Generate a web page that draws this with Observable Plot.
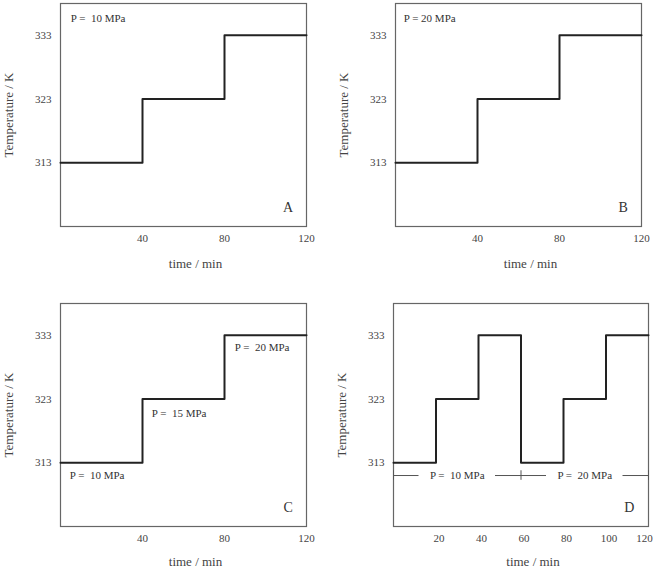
<!DOCTYPE html>
<html>
<head>
<meta charset="utf-8">
<script src="https://cdn.jsdelivr.net/npm/d3@7"></script>
<script src="https://cdn.jsdelivr.net/npm/@observablehq/plot@0.6"></script>
<style>
  html, body { margin: 0; padding: 0; background: #fff; }
  #wrap { position: relative; width: 654px; height: 568px; overflow: hidden; }
  .panel { position: absolute; width: 327px; height: 284px; }
  .panel svg { display: block; overflow: visible; }
</style>
</head>
<body>
<div id="wrap">
  <div class="panel" id="pA" style="left:0;top:0"></div>
  <div class="panel" id="pB" style="left:327px;top:0"></div>
  <div class="panel" id="pC" style="left:0;top:284px"></div>
  <div class="panel" id="pD" style="left:327px;top:284px"></div>
</div>
<script>
// ---- data ----
const timeABC = [0, 40, 80, 120];
const tempABC = [313, 323, 333, 333];
const timeD = [0, 20, 40, 60, 80, 100, 120];
const tempD = [313, 323, 333, 313, 323, 333, 333];
const yTicks = [313, 323, 333];
const xTicksABC = [40, 80, 120];
const xTicksD = [20, 40, 60, 80, 100];
const xTickDLast = [120];
const panelLetters = ["A", "B", "C", "D"];
const yLabel = "Temperature / K";
const xLabel = "time / min";
const pressureA = "P =\u00a0 10 MPa";
const pressureB = "P = 20 MPa";
const labelsC = ["P =\u00a0 10 MPa", "P =\u00a0 15 MPa", "P =\u00a0 20 MPa"];
const labelsCTime = [4.5, 44.5, 85];
const labelsCTemp = [311, 320.8, 331.1];
const labelsD = ["P =\u00a0 10 MPa", "P =\u00a0 20 MPa"];
const labelsDTime = [30, 90];
const labelDTemp = 311;
const barsDStart = [0, 48, 108];
const barsDEnd = [12, 72, 120];
const ticksDTime = [0, 60, 120];

const FONT = "Liberation Serif, serif";
const INK = "#222";
const FRAME = "#666";
const TXT = "#444";

function steps(times, temps) {
  return times.map((t, i) => ({t, T: temps[i]}));
}

function panel(el, {times, temps, xAxes, m, letter, labelDy, extra}) {
  const chart = Plot.plot({
    width: 327,
    height: 284,
    marginLeft: m[0], marginRight: m[1], marginTop: m[2], marginBottom: m[3],
    style: {fontFamily: FONT, fontSize: "11px", color: TXT, background: "#fff"},
    x: {domain: [0, 120]},
    y: {domain: [303, 338]},
    marks: [
      Plot.frame({stroke: FRAME, strokeWidth: 1.2}),
      ...xAxes,
      Plot.axisY(yTicks, {tickSize: 0, tickPadding: 9, label: null, fill: TXT}),
      Plot.line(steps(times, temps), {x: "t", y: "T", curve: "step-after", stroke: INK, strokeWidth: 2}),
      Plot.text([letter], {x: () => 111, y: () => 306, text: d => d, fontSize: 14, fill: "#333"}),
      Plot.text([yLabel], {text: d => d, frameAnchor: "left", rotate: -90, dx: -52, textAnchor: "middle", lineAnchor: "middle", fontSize: 13, fill: TXT}),
      Plot.text([xLabel], {text: d => d, frameAnchor: "bottom", dy: labelDy, dx: 12, lineAnchor: "middle", textAnchor: "middle", fontSize: 13, fill: TXT}),
      ...extra
    ]
  });
  document.getElementById(el).appendChild(chart);
}

const axisABC = () => [Plot.axisX(xTicksABC, {tickSize: 0, tickPadding: 8, label: null, fill: TXT})];
const axisD = () => [
  Plot.axisX(xTicksD, {tickSize: 0, tickPadding: 8, label: null, fill: TXT, dx: 3}),
  Plot.axisX(xTickDLast, {tickSize: 0, tickPadding: 8, label: null, fill: TXT, dx: -4})
];

panel("pA", {
  times: timeABC, temps: tempABC, xAxes: axisABC(), m: [60, 21, 3, 58], letter: panelLetters[0], labelDy: 37,
  extra: [Plot.text([pressureA], {x: () => 5, y: () => 335.6, text: d => d, textAnchor: "start", fontSize: 11, fill: "#333"})]
});
panel("pB", {
  times: timeABC, temps: tempABC, xAxes: axisABC(), m: [68, 13, 3, 58], letter: panelLetters[1], labelDy: 37,
  extra: [Plot.text([pressureB], {x: () => 4, y: () => 335.6, text: d => d, textAnchor: "start", fontSize: 11, fill: "#333"})]
});
panel("pC", {
  times: timeABC, temps: tempABC, xAxes: axisABC(), m: [60, 21, 19, 42], letter: panelLetters[2], labelDy: 35,
  extra: [Plot.text(labelsC, {x: (d, i) => labelsCTime[i], y: (d, i) => labelsCTemp[i], text: d => d, textAnchor: "start", fontSize: 11, fill: "#333"})]
});
panel("pD", {
  times: timeD, temps: tempD, xAxes: axisD(), m: [66, 6, 19, 42], letter: panelLetters[3], labelDy: 35,
  extra: [
    Plot.ruleY(barsDStart, {x1: d => d, x2: (d, i) => barsDEnd[i], y: () => labelDTemp, stroke: "#555", strokeWidth: 1}),
    Plot.ruleX(ticksDTime, {x: d => d, y1: () => labelDTemp - 0.75, y2: () => labelDTemp + 0.75, stroke: "#555", strokeWidth: 1}),
    Plot.text(labelsD, {x: (d, i) => labelsDTime[i], y: () => labelDTemp, text: d => d, textAnchor: "middle", fontSize: 11, fill: "#333"})
  ]
});
</script>
</body>
</html>
